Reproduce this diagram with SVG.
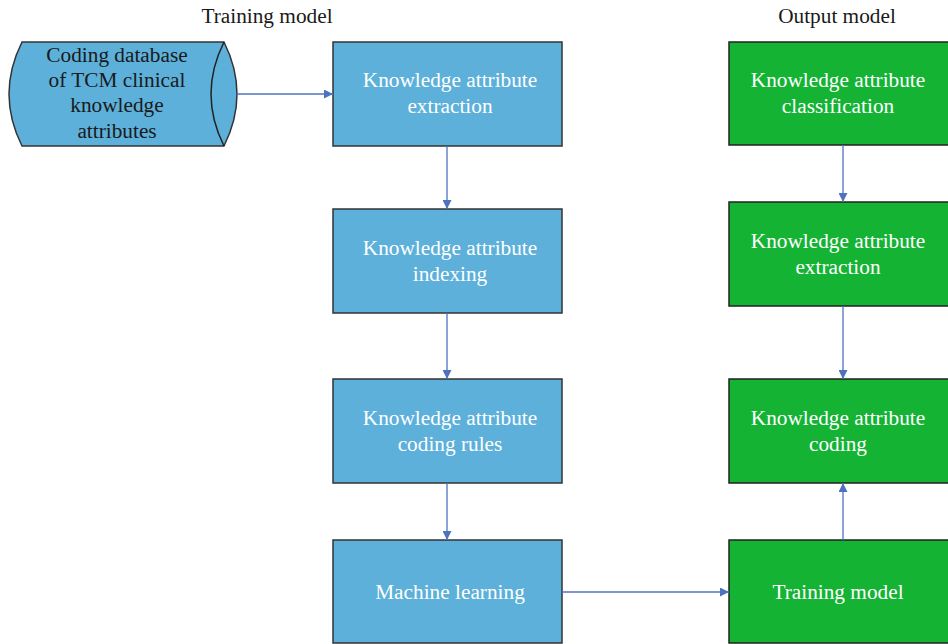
<svg xmlns="http://www.w3.org/2000/svg" width="948" height="644" viewBox="0 0 948 644">
<defs>
<marker id="arr" viewBox="0 0 10 10" refX="10" refY="5" markerWidth="9" markerHeight="9" markerUnits="userSpaceOnUse" orient="auto">
<path d="M0,0 L10,5 L0,10 z" fill="#4f72be"/>
</marker>
<style>
.blue{fill:#5cb0da;stroke:#333;stroke-width:1.5}
.green{fill:#14b334;stroke:#222;stroke-width:1.5}
.wt{font-family:"Liberation Serif",serif;font-size:21.3px;fill:#fff;text-anchor:middle}
.bt{font-family:"Liberation Serif",serif;font-size:21.3px;fill:#1a1a1a;text-anchor:middle}
.conn line{stroke:#4f72be;stroke-width:1.3;marker-end:url(#arr)}
</style>
</defs>
<rect width="948" height="644" fill="#fff"/>
<text class="bt" x="267" y="23">Training model</text>
<text class="bt" x="837" y="23">Output model</text>
<g id="db">
<path class="blue" d="M22,42 L224,42 Q250,94 224,146 L22,146 Q-4,94 22,42 z"/>
<path d="M224,42 Q198,94 224,146" fill="none" stroke="#222" stroke-width="1.5"/>
<text class="bt" x="117" y="62">Coding database</text>
<text class="bt" x="117" y="87">of TCM clinical</text>
<text class="bt" x="117" y="112">knowledge</text>
<text class="bt" x="117" y="138">attributes</text>
</g>
<g id="b1"><rect class="blue" x="333" y="42" width="229" height="104"/>
<text class="wt" x="450" y="87">Knowledge attribute</text><text class="wt" x="450" y="113">extraction</text></g>
<g id="b2"><rect class="blue" x="333" y="209" width="229" height="104"/>
<text class="wt" x="450" y="255">Knowledge attribute</text><text class="wt" x="450" y="281">indexing</text></g>
<g id="b3"><rect class="blue" x="333" y="379" width="229" height="104"/>
<text class="wt" x="450" y="425">Knowledge attribute</text><text class="wt" x="450" y="451">coding rules</text></g>
<g id="b4"><rect class="blue" x="333" y="540" width="229" height="103"/>
<text class="wt" x="450" y="599">Machine learning</text></g>
<g id="g1"><rect class="green" x="729" y="42" width="225" height="103"/>
<text class="wt" x="838" y="87">Knowledge attribute</text><text class="wt" x="838" y="113">classification</text></g>
<g id="g2"><rect class="green" x="729" y="202" width="225" height="104"/>
<text class="wt" x="838" y="248">Knowledge attribute</text><text class="wt" x="838" y="274">extraction</text></g>
<g id="g3"><rect class="green" x="729" y="379" width="225" height="104"/>
<text class="wt" x="838" y="425">Knowledge attribute</text><text class="wt" x="838" y="451">coding</text></g>
<g id="g4"><rect class="green" x="729" y="540" width="225" height="103"/>
<text class="wt" x="838" y="599">Training model</text></g>
<g class="conn">
<line x1="237" y1="94" x2="333" y2="94"/>
<line x1="447" y1="146" x2="447" y2="209"/>
<line x1="447" y1="313" x2="447" y2="379"/>
<line x1="447" y1="483" x2="447" y2="540"/>
<line x1="562" y1="592" x2="729" y2="592"/>
<line x1="843" y1="145" x2="843" y2="202"/>
<line x1="843" y1="306" x2="843" y2="379"/>
<line x1="843" y1="540" x2="843" y2="483"/>
</g>
</svg>
